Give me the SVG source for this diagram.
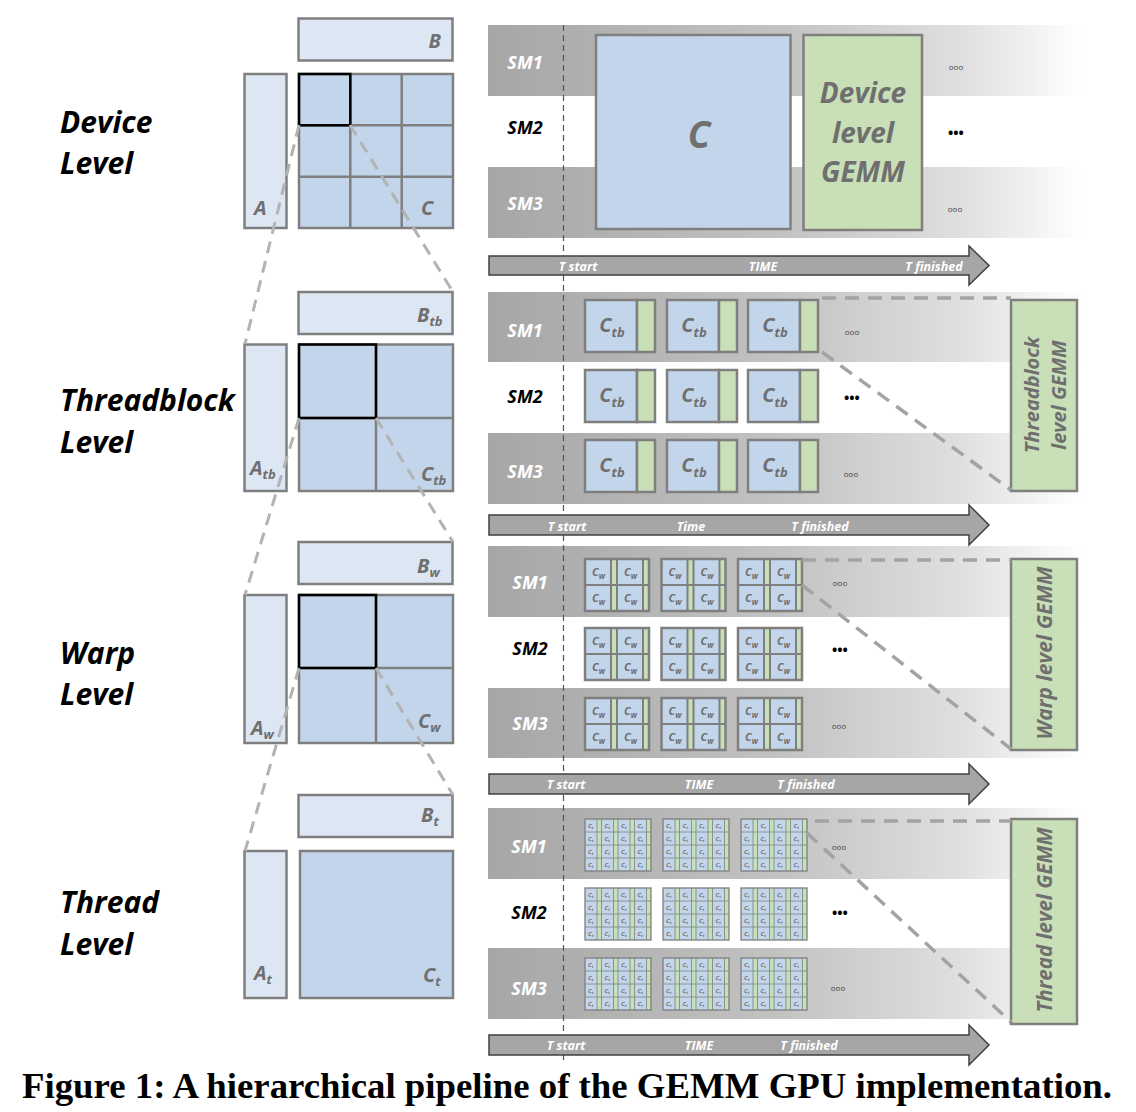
<svg xmlns="http://www.w3.org/2000/svg" width="1136" height="1112" viewBox="0 0 1136 1112">
<style>
.f{font-family:"Open Sans",Lato,"DejaVu Sans",sans-serif;font-weight:bold;font-style:italic}
.g{fill:#6f6f6f}
.ml{fill:#dde7f3;stroke:#7f7f7f;stroke-width:2.5}
.mc{fill:#c3d5eb;stroke:#7f7f7f;stroke-width:2.5}
.ln{stroke:#7f7f7f;stroke-width:2.5;fill:none}
.hl{fill:none;stroke:#000;stroke-width:2.5}
.dl{stroke:#b3b3b3;stroke-width:3;stroke-dasharray:12 8;fill:none}
.dr{stroke:#a3a3a3;stroke-width:3.5;stroke-dasharray:14 9;fill:none}
.band{fill:url(#bandg)}
.arrow{fill:#a6a6a6;stroke:#404040;stroke-width:1.5}
.at{fill:#fff;font-size:12.5px;text-anchor:middle}
.sm{font-size:18px;text-anchor:middle}
.w{fill:#fff}
.k{fill:#000}
.gb{fill:#c9dfb7;stroke:#7f7f7f;stroke-width:2.5}
.bb{fill:#c3d5eb;stroke:#7f7f7f;stroke-width:2.5}
.ml2{font-size:20px}
.lv{font-size:30px;fill:#000}
.oo{font-size:8px;fill:#444;text-anchor:middle;font-style:normal;font-weight:normal}
.bl{font-size:14px;fill:#000;text-anchor:middle;font-style:normal}
.vd{stroke:#555;stroke-width:1.2;stroke-dasharray:6 4}
.cw{font-size:11px}
.ct{font-size:6px}
</style>
<defs>
<linearGradient id="bandg" x1="0" y1="0" x2="1" y2="0">
<stop offset="0" stop-color="#a6a6a6"/>
<stop offset="0.5" stop-color="#c3c3c3"/>
<stop offset="0.8" stop-color="#e0e0e0"/>
<stop offset="1" stop-color="#ffffff"/>
</linearGradient>
<g id="ctb">
<rect x="0" y="0" width="52" height="52" class="bb"/>
<rect x="52" y="0" width="18" height="52" class="gb"/>
</g>
<g id="wgrp">
<rect x="0" y="0" width="64" height="52" fill="#c3d5eb"/>
<rect x="26" y="0" width="6" height="52" fill="#c9dfb7"/>
<rect x="58" y="0" width="6" height="52" fill="#c9dfb7"/>
<path d="M26 0V52M32 0V52M58 0V52M0 26H64" stroke="#7f7f7f" stroke-width="2" fill="none"/>
<rect x="0" y="0" width="64" height="52" fill="none" stroke="#7f7f7f" stroke-width="2.5"/>
<g class="f g cw">
<text x="7" y="17">C<tspan font-size="8" dy="3">w</tspan></text>
<text x="39" y="17">C<tspan font-size="8" dy="3">w</tspan></text>
<text x="7" y="43">C<tspan font-size="8" dy="3">w</tspan></text>
<text x="39" y="43">C<tspan font-size="8" dy="3">w</tspan></text>
</g>
</g>
<g id="tgrp">
<rect x="0" y="0" width="66" height="52" fill="#c3d5eb"/>
<rect x="12" y="0" width="4.5" height="52" fill="#c9dfb7"/>
<rect x="28.5" y="0" width="4.5" height="52" fill="#c9dfb7"/>
<rect x="45" y="0" width="4.5" height="52" fill="#c9dfb7"/>
<rect x="61.5" y="0" width="4.5" height="52" fill="#c9dfb7"/>
<path d="M12 0V52M16.5 0V52M28.5 0V52M33 0V52M45 0V52M49.5 0V52M61.5 0V52M0 13H66M0 26H66M0 39H66" stroke="#7f8f86" stroke-width="0.9" fill="none"/>
<rect x="0" y="0" width="66" height="52" fill="none" stroke="#7f7f7f" stroke-width="1.3"/>
<g class="f g ct">
<text x="3" y="8.5">C<tspan font-size="4" dy="1.5">t</tspan></text>
<text x="19.5" y="8.5">C<tspan font-size="4" dy="1.5">t</tspan></text>
<text x="36" y="8.5">C<tspan font-size="4" dy="1.5">t</tspan></text>
<text x="52.5" y="8.5">C<tspan font-size="4" dy="1.5">t</tspan></text>
<text x="3" y="21.5">C<tspan font-size="4" dy="1.5">t</tspan></text>
<text x="19.5" y="21.5">C<tspan font-size="4" dy="1.5">t</tspan></text>
<text x="36" y="21.5">C<tspan font-size="4" dy="1.5">t</tspan></text>
<text x="52.5" y="21.5">C<tspan font-size="4" dy="1.5">t</tspan></text>
<text x="3" y="34.5">C<tspan font-size="4" dy="1.5">t</tspan></text>
<text x="19.5" y="34.5">C<tspan font-size="4" dy="1.5">t</tspan></text>
<text x="36" y="34.5">C<tspan font-size="4" dy="1.5">t</tspan></text>
<text x="52.5" y="34.5">C<tspan font-size="4" dy="1.5">t</tspan></text>
<text x="3" y="47.5">C<tspan font-size="4" dy="1.5">t</tspan></text>
<text x="19.5" y="47.5">C<tspan font-size="4" dy="1.5">t</tspan></text>
<text x="36" y="47.5">C<tspan font-size="4" dy="1.5">t</tspan></text>
<text x="52.5" y="47.5">C<tspan font-size="4" dy="1.5">t</tspan></text>
</g>
</g>
</defs>
<rect width="1136" height="1112" fill="#fff"/>

<!-- Level labels -->
<g id="level-labels" class="f lv">
<text x="60" y="133">Device</text><text x="60" y="174">Level</text>
<text x="60" y="411">Threadblock</text><text x="60" y="453">Level</text>
<text x="60" y="664">Warp</text><text x="60" y="705">Level</text>
<text x="60" y="913">Thread</text><text x="60" y="955">Level</text>
</g>

<!-- Left matrices -->
<g id="device-matrices">
<rect class="ml" x="298.5" y="18.5" width="154" height="42"/>
<rect class="ml" x="244.5" y="74" width="42" height="154"/>
<rect class="mc" x="299" y="74" width="154" height="154"/>
<path class="ln" d="M350.3 74V228M401.7 74V228M299 125.3H453M299 176.7H453"/>
<rect class="hl" x="299" y="74" width="51.3" height="51.3"/>
<g class="f g" font-size="20">
<text x="441" y="48" text-anchor="end">B</text>
<text x="254" y="215">A</text>
<text x="421" y="215">C</text>
</g>
</g>
<g id="threadblock-matrices">
<rect class="ml" x="298.5" y="292" width="154" height="42"/>
<rect class="ml" x="244.5" y="344.5" width="42" height="146.5"/>
<rect class="mc" x="299" y="344.5" width="154" height="146.5"/>
<path class="ln" d="M376 344.5V491M299 418H453"/>
<rect class="hl" x="299" y="344.5" width="77" height="73.5"/>
<g class="f g ml2">
<text x="417" y="322">B<tspan font-size="13" dy="4">tb</tspan></text>
<text x="250" y="475">A<tspan font-size="13" dy="4">tb</tspan></text>
<text x="421" y="481">C<tspan font-size="13" dy="4">tb</tspan></text>
</g>
</g>
<g id="warp-matrices">
<rect class="ml" x="298.5" y="542" width="154" height="42"/>
<rect class="ml" x="244.5" y="595" width="42" height="148"/>
<rect class="mc" x="299" y="595" width="154" height="148"/>
<path class="ln" d="M376 595V743M299 668H453"/>
<rect class="hl" x="299" y="595" width="77" height="73"/>
<g class="f g ml2">
<text x="417" y="573">B<tspan font-size="13" dy="4">w</tspan></text>
<text x="251" y="735">A<tspan font-size="13" dy="4">w</tspan></text>
<text x="418" y="728">C<tspan font-size="13" dy="4">w</tspan></text>
</g>
</g>
<g id="thread-matrices">
<rect class="ml" x="298.5" y="795" width="154" height="42"/>
<rect class="ml" x="244.5" y="851" width="42" height="147"/>
<rect class="mc" x="300" y="851" width="153" height="147"/>
<g class="f g ml2">
<text x="421" y="822">B<tspan font-size="13" dy="4">t</tspan></text>
<text x="254" y="980">A<tspan font-size="13" dy="4">t</tspan></text>
<text x="423" y="982">C<tspan font-size="13" dy="4">t</tspan></text>
</g>
</g>

<!-- SM bands -->
<g id="bands">
<rect class="band" x="488" y="25" width="595" height="71"/>
<rect class="band" x="488" y="167" width="595" height="71"/>
<rect class="band" x="488" y="292" width="595" height="70"/>
<rect class="band" x="488" y="433" width="595" height="71"/>
<rect class="band" x="488" y="546" width="595" height="71"/>
<rect class="band" x="488" y="688" width="595" height="70"/>
<rect class="band" x="488" y="808" width="595" height="71"/>
<rect class="band" x="488" y="948" width="595" height="71"/>
</g>
<line id="t-start-line" class="vd" x1="563.5" y1="25" x2="563.5" y2="1060"/>

<g id="sm-labels" class="f sm">
<text class="w" x="525" y="69">SM1</text><text class="k" x="525" y="134">SM2</text><text class="w" x="525" y="210">SM3</text>
<text class="w" x="525" y="337">SM1</text><text class="k" x="525" y="403">SM2</text><text class="w" x="525" y="478">SM3</text>
<text class="w" x="530" y="589">SM1</text><text class="k" x="530" y="655">SM2</text><text class="w" x="530" y="730">SM3</text>
<text class="w" x="529" y="853">SM1</text><text class="k" x="529" y="919">SM2</text><text class="w" x="529" y="995">SM3</text>
</g>

<!-- Device row -->
<g id="device-c">
<rect class="bb" x="596" y="35" width="194.5" height="194"/>
<text class="f g" x="699" y="148" font-size="37" text-anchor="middle">C</text>
</g>
<g id="device-gemm">
<rect class="gb" x="803.5" y="35" width="118.5" height="195"/>
<g class="f g" font-size="28" text-anchor="middle">
<text x="863" y="103">Device</text>
<text x="863" y="143">level</text>
<text x="863" y="182">GEMM</text>
</g>
</g>

<!-- Threadblock row -->
<g id="threadblock-tiles">
<use href="#ctb" x="585" y="300"/><use href="#ctb" x="667" y="300"/><use href="#ctb" x="748" y="300"/>
<use href="#ctb" x="585" y="370"/><use href="#ctb" x="667" y="370"/><use href="#ctb" x="748" y="370"/>
<use href="#ctb" x="585" y="440"/><use href="#ctb" x="667" y="440"/><use href="#ctb" x="748" y="440"/>
<g class="f g" font-size="20" text-anchor="middle">
<text x="612" y="332">C<tspan font-size="13" dy="5">tb</tspan></text>
<text x="694" y="332">C<tspan font-size="13" dy="5">tb</tspan></text>
<text x="775" y="332">C<tspan font-size="13" dy="5">tb</tspan></text>
<text x="612" y="402">C<tspan font-size="13" dy="5">tb</tspan></text>
<text x="694" y="402">C<tspan font-size="13" dy="5">tb</tspan></text>
<text x="775" y="402">C<tspan font-size="13" dy="5">tb</tspan></text>
<text x="612" y="472">C<tspan font-size="13" dy="5">tb</tspan></text>
<text x="694" y="472">C<tspan font-size="13" dy="5">tb</tspan></text>
<text x="775" y="472">C<tspan font-size="13" dy="5">tb</tspan></text>
</g>
</g>
<g id="threadblock-gemm">
<rect class="gb" x="1011" y="300" width="66" height="191"/>
<g class="f g" font-size="20" text-anchor="middle">
<text transform="translate(1039,395) rotate(-90)">Threadblock</text>
<text transform="translate(1066,395) rotate(-90)">level GEMM</text>
</g>
</g>

<!-- Warp row -->
<g id="warp-tiles">
<use href="#wgrp" x="585" y="559"/><use href="#wgrp" x="661.5" y="559"/><use href="#wgrp" x="738" y="559"/>
<use href="#wgrp" x="585" y="628"/><use href="#wgrp" x="661.5" y="628"/><use href="#wgrp" x="738" y="628"/>
<use href="#wgrp" x="585" y="698"/><use href="#wgrp" x="661.5" y="698"/><use href="#wgrp" x="738" y="698"/>
</g>
<g id="warp-gemm">
<rect class="gb" x="1011" y="559" width="66" height="191"/>
<text class="f g" font-size="21" text-anchor="middle" transform="translate(1052,653) rotate(-90)">Warp level GEMM</text>
</g>

<!-- Thread row -->
<g id="thread-tiles">
<use href="#tgrp" x="585" y="819"/><use href="#tgrp" x="663" y="819"/><use href="#tgrp" x="741" y="819"/>
<use href="#tgrp" x="585" y="888"/><use href="#tgrp" x="663" y="888"/><use href="#tgrp" x="741" y="888"/>
<use href="#tgrp" x="585" y="958"/><use href="#tgrp" x="663" y="958"/><use href="#tgrp" x="741" y="958"/>
</g>
<g id="thread-gemm">
<rect class="gb" x="1011" y="819" width="66" height="205"/>
<text class="f g" font-size="20.5" text-anchor="middle" transform="translate(1052,920) rotate(-90)">Thread level GEMM</text>
</g>

<!-- Ellipses -->
<g id="ellipses" class="f">
<text class="oo" x="956" y="70">ooo</text><text class="bl" x="956" y="138">•••</text><text class="oo" x="955" y="212">ooo</text>
<text class="oo" x="852" y="335">ooo</text><text class="bl" x="852" y="403">•••</text><text class="oo" x="851" y="477">ooo</text>
<text class="oo" x="840" y="586">ooo</text><text class="bl" x="840" y="655">•••</text><text class="oo" x="839" y="729">ooo</text>
<text class="oo" x="839" y="850">ooo</text><text class="bl" x="840" y="918">•••</text><text class="oo" x="838" y="991">ooo</text>
</g>

<!-- Connectors -->
<g id="connectors">
<path class="dl" d="M299 125L245 344"/>
<path class="dl" d="M350 125L453 292"/>
<path class="dl" d="M299 418L245 595"/>
<path class="dl" d="M376 418L453 542"/>
<path class="dl" d="M299 668L245 851"/>
<path class="dl" d="M376 668L453 795"/>
<path class="dr" d="M822 298H1011"/>
<path class="dr" d="M822 352L1011 490"/>
<path class="dr" d="M802 560H1011"/>
<path class="dr" d="M802 585L1011 749"/>
<path class="dr" d="M815 821H1011"/>
<path class="dr" d="M807 833L1011 1022"/>
</g>

<!-- Time arrows -->
<g id="time-arrows">
<polygon class="arrow" points="489,256 969,256 969,246 989,265.5 969,285 969,275 489,275"/>
<polygon class="arrow" points="489,515 969,515 969,505 989,525 969,545 969,535 489,535"/>
<polygon class="arrow" points="489,774 969,774 969,764 989,784 969,804 969,794 489,794"/>
<polygon class="arrow" points="489,1035 969,1035 969,1025 989,1045 969,1065 969,1055 489,1055"/>
<g class="f at">
<text x="578" y="270.5">T start</text><text x="763" y="270.5">TIME</text><text x="934" y="270.5">T finished</text>
<text x="567" y="531">T start</text><text x="691" y="531">Time</text><text x="820" y="531">T finished</text>
<text x="566" y="788.5">T start</text><text x="699" y="788.5">TIME</text><text x="806" y="788.5">T finished</text>
<text x="566" y="1049.5">T start</text><text x="699" y="1049.5">TIME</text><text x="809" y="1049.5">T finished</text>
</g>
</g>

<text id="caption" x="22" y="1098" font-family="'Liberation Serif',serif" font-weight="bold" font-size="35" textLength="1090" lengthAdjust="spacingAndGlyphs" fill="#000">Figure 1: A hierarchical pipeline of the GEMM GPU implementation.</text>
</svg>
